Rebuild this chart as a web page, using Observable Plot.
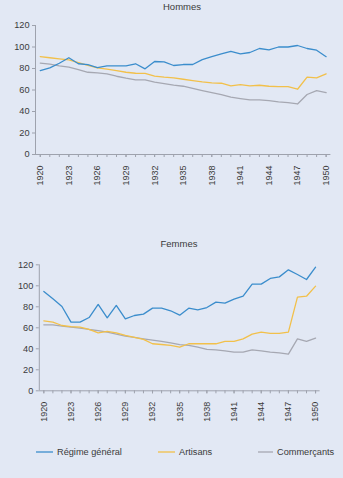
<!DOCTYPE html>
<html>
<head>
<meta charset="utf-8">
<script src="https://cdn.jsdelivr.net/npm/d3@7"></script>
<script src="https://cdn.jsdelivr.net/npm/@observablehq/plot@0.6"></script>
<style>
  html, body { margin: 0; padding: 0; background: #e2e8f4; }
  #page { position: relative; width: 343px; height: 478px; overflow: hidden;
          font-family: "Liberation Sans Narrow", "Liberation Sans", Arial, sans-serif; color: #3a3a3a; }
  .title { position: absolute; font-size: 9.5px; text-align: center; transform: translateX(-50%); white-space: nowrap; }
  .panel { position: absolute; left: 0; }
  .legend-item { position: absolute; top: 447px; font-size: 9.2px; display: flex; align-items: center; white-space: nowrap; }
  .legend-item svg { margin-right: 4px; }
</style>
</head>
<body>
<div id="page"></div>
<script>
// Years 1920–1950
const years = d3.range(1920, 1951);
const labelYears = d3.range(1920, 1951, 3);
const yTicks = [0, 20, 40, 60, 80, 100, 120];

const seriesNames = ["Régime général", "Artisans", "Commerçants"];
const seriesColors = ["#3b8dcc", "#f2c04a", "#a6a8b2"];

// Hommes
const hommesRegime = [78, 80.6, 84.9, 90, 84.4, 83.7, 80.9, 82.5, 82.5, 82.5, 84.4, 79.7, 86.5, 86.2, 82.8,
  83.7, 83.7, 88.3, 91, 93.6, 96, 93.6, 94.9, 98.6, 97.4, 100, 100, 101.4, 98.6, 97, 91];
const hommesArtisans = [91.1, 90, 89, 88, 85.5, 82.8, 80.6, 79.5, 78, 76.5, 75.6, 75.4, 73, 72, 71.3,
  70, 68.8, 67.6, 66.6, 66.3, 63.8, 65, 63.8, 64.4, 63.5, 63.2, 63.2, 60.7, 71.9, 71.3, 75];
const hommesCommercants = [85, 84, 82.5, 81.2, 79, 76.5, 76, 75, 72.8, 71, 69.5, 69.5, 67.4, 66, 64.5,
  63.5, 61.6, 59.5, 57.6, 55.8, 53.3, 52, 50.8, 50.8, 50.2, 49, 48.3, 47, 55.8, 59.5, 57.6];

// Femmes
const femmesRegime = [94.6, 87.6, 80.3, 65.4, 65.4, 69.8, 82.2, 69.5, 81.3, 68.5, 71.7, 73, 78.7, 78.7, 76.2,
  72, 78.7, 77.1, 79.3, 84.4, 83.5, 87.3, 90.1, 101.6, 101.6, 107, 108.5, 115.2, 110.8, 106, 117.7];
const femmesArtisans = [66.6, 65.4, 62.2, 61.2, 60.6, 58.4, 55.2, 56.5, 55.2, 52.7, 50.8, 48.9, 44.8, 44.1, 43.2,
  41.5, 44.8, 44.8, 44.8, 44.8, 47, 47, 49.5, 54, 55.8, 54.6, 54.6, 55.8, 89.2, 90.1, 99.7];
const femmesCommercants = [62.8, 62.8, 61.5, 60.6, 59.6, 58.4, 57.4, 55.8, 53.9, 52, 50.8, 49.5, 48.2, 47, 45.7,
  44, 43.2, 41.6, 39.4, 39, 38.1, 36.8, 36.8, 39, 38.1, 36.8, 36.2, 34.9, 49.5, 47, 50.2];

const page = document.getElementById("page");
const fontFamily = "'Liberation Sans Narrow', 'Liberation Sans', Arial, sans-serif";
const axisColor = "#9ea2ad";
const textColor = "#3a3a3a";

function toRows(values) {
  // values: [regime, artisans, commercants]; drawn back to front
  const rows = [];
  [2, 1, 0].forEach(k => {
    values[k].forEach((v, i) => rows.push({ year: years[i], value: v, series: seriesNames[k] }));
  });
  return rows;
}

function panel({ values, top, height, margins }) {
  const rows = toRows(values);
  const chart = Plot.plot({
    width: 343,
    height,
    marginTop: margins.top,
    marginBottom: margins.bottom,
    marginLeft: margins.left,
    marginRight: margins.right,
    style: { background: "transparent", fontFamily, fontSize: "9px", color: textColor },
    x: { domain: [1919.5, 1950.5], axis: null },
    y: { domain: [0, 120], axis: null },
    color: { domain: seriesNames, range: seriesColors },
    marks: [
      Plot.ruleY([0], { stroke: axisColor }),
      Plot.ruleX([1919.5], { stroke: axisColor }),
      Plot.axisY({ ticks: yTicks, tickSize: 3, tickPadding: 3, label: null,
                   stroke: axisColor, fill: textColor, fontSize: 9.2 }),
      Plot.axisX({ ticks: years, tickSize: 3, tickFormat: () => "", label: null, stroke: axisColor }),
      Plot.axisX({ ticks: labelYears, tickSize: 3, tickPadding: 8, tickRotate: -90, label: null,
                   tickFormat: d => String(d), stroke: axisColor, fill: textColor, fontSize: 9 }),
      Plot.line(rows, { x: "year", y: "value", z: "series", stroke: "series", strokeWidth: 1.3 })
    ]
  });
  chart.classList.add("panel");
  chart.style.top = top + "px";
  page.appendChild(chart);
}

function title(text, x, y) {
  const d = document.createElement("div");
  d.className = "title";
  d.textContent = text;
  d.style.left = x + "px";
  d.style.top = y + "px";
  page.appendChild(d);
}

title("Hommes", 182, 1);
panel({
  values: [hommesRegime, hommesArtisans, hommesCommercants],
  top: 0, height: 190,
  margins: { top: 25, bottom: 36, left: 35, right: 12.6 }
});

title("Femmes", 179, 238);
panel({
  values: [femmesRegime, femmesArtisans, femmesCommercants],
  top: 240, height: 190,
  margins: { top: 24.3, bottom: 39.7, left: 38.8, right: 23.4 }
});

// Legend
const legendX = [36, 158, 258];
const swatchW = [17, 17, 15];
const svgNS = "http://www.w3.org/2000/svg";
seriesNames.forEach((name, k) => {
  const item = document.createElement("div");
  item.className = "legend-item";
  item.style.left = legendX[k] + "px";
  const sw = document.createElementNS(svgNS, "svg");
  sw.setAttribute("width", swatchW[k]);
  sw.setAttribute("height", 4);
  const ln = document.createElementNS(svgNS, "line");
  ln.setAttribute("x1", 0); ln.setAttribute("x2", swatchW[k]);
  ln.setAttribute("y1", 2); ln.setAttribute("y2", 2);
  ln.setAttribute("stroke", seriesColors[k]);
  ln.setAttribute("stroke-width", 1.3);
  sw.appendChild(ln);
  item.appendChild(sw);
  item.appendChild(document.createTextNode(name));
  page.appendChild(item);
});
</script>
</body>
</html>
